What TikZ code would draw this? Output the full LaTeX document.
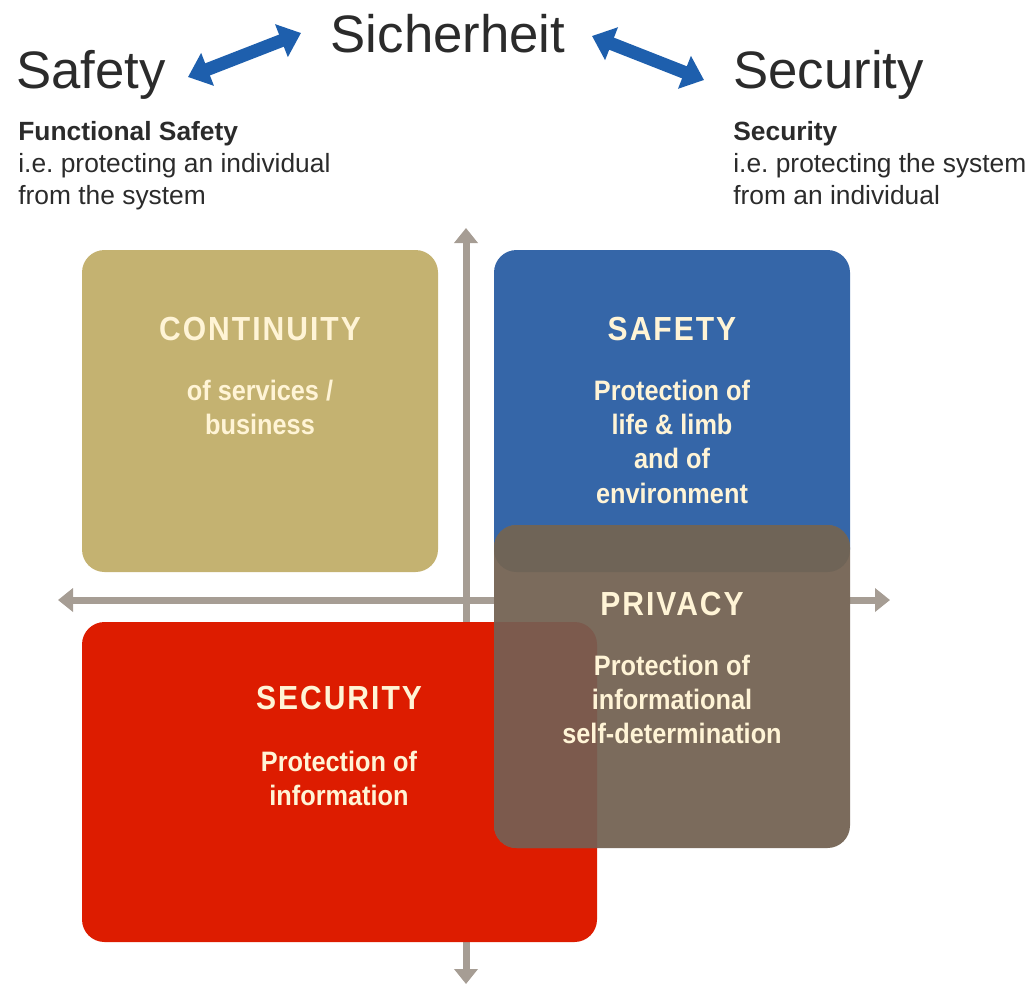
\documentclass[tikz,border=0pt]{standalone}
\usepackage{fontspec}
\setmainfont{Liberation Sans}
\newfontfamily\narrowfont[FakeStretch=0.9]{Liberation Sans}
\newfontfamily\capsfont[FakeStretch=0.9,LetterSpace=6]{Liberation Sans}
\usetikzlibrary{arrows.meta}

\definecolor{contcolor}{HTML}{C4B271}
\definecolor{safecolor}{HTML}{3566A8}
\definecolor{privcolor}{HTML}{7B6B5C}
\definecolor{privsafe}{HTML}{6F6457}
\definecolor{privsec}{HTML}{7C5A4D}
\definecolor{seccolor}{HTML}{DD1C00}
\definecolor{axisgrey}{HTML}{A69D94}
\definecolor{arrowblue}{HTML}{1E5FAD}
\definecolor{inkgrey}{HTML}{2B2B2B}
\definecolor{boxtext}{HTML}{FFF4D6}

\begin{document}
\begin{tikzpicture}[x=0.2mm,y=-0.2mm,
    field/.style={rounded corners=4.5mm},
    axis/.style={draw=axisgrey,line width=1.4mm,{Triangle[length=3mm,width=4.6mm]}-{Triangle[length=3mm,width=4.6mm]}},
    twoway/.style={draw=arrowblue,line width=2.6mm,{Triangle[length=4.2mm,width=6.8mm]}-{Triangle[length=4.2mm,width=6.8mm]}},
    heading/.style={text=inkgrey,font=\fontsize{30}{34}\selectfont,inner sep=0pt},
    note/.style={text=inkgrey,font=\fontsize{15}{18.2}\selectfont,align=left,inner sep=0pt,anchor=north west},
    fieldtitle/.style={text=boxtext,font=\capsfont\bfseries\fontsize{19}{22}\selectfont,inner sep=0pt,anchor=base},
    fieldbody/.style={text=boxtext,font=\narrowfont\bfseries\fontsize{16}{19.4}\selectfont,align=center,inner sep=0pt,anchor=north}]
    \useasboundingbox (0,0) rectangle (1029,985);
    \def\safetyfield{(494,250) rectangle (850,572)}
    \def\privacyfield{(494,525) rectangle (850,848)}
    \def\securityfield{(82,622) rectangle (597,942)}

    % Axes.
    \coordinate (axtop) at (466,228);
    \coordinate (axbottom) at (466,984);
    \coordinate (axleft) at (58,600);
    \coordinate (axright) at (890,600);
    \draw[axis] (axbottom) -- (axtop);
    \draw[axis] (axleft) -- (axright);

    % Fields.
    \fill[field,contcolor] (82,250) rectangle (438,572);
    \fill[field,safecolor] \safetyfield;
    \fill[field,seccolor] \securityfield;
    \fill[field,privcolor] \privacyfield;
    \begin{scope}
        \clip[field] \privacyfield;
        \fill[field,privsafe] \safetyfield;
        \fill[field,privsec] \securityfield;
    \end{scope}

    % Headings.
    \node[heading,anchor=base west] (safetyhead) at (16,88) {Safety};
    \node[heading,anchor=base] (sicherheit) at (448,52) {Sicherheit};
    \node[heading,anchor=base west] (securityhead) at (733,88) {Security};
    \coordinate (la) at (188,77);
    \coordinate (lb) at (301,33);
    \coordinate (ra) at (592,36);
    \coordinate (rb) at (704,80);
    \draw[twoway] (la) -- (lb);
    \draw[twoway] (ra) -- (rb);

    \node[note] (safetynote) at (18,121) {\textbf{Functional Safety}\\i.e.\ protecting an individual\\from the system};
    \node[note] (securitynote) at (733,121) {\textbf{Security}\\i.e.\ protecting the system\\from an individual};

    % Field texts.
    \node[fieldtitle] (conttitle) at (260,340) {CONTINUITY};
    \node[fieldbody] (contbody) at (260,380) {of services /\\business};
    \node[fieldtitle] (safetitle) at (672,340) {SAFETY};
    \node[fieldbody] (safebody) at (672,380) {Protection of\\life \& limb\\and of\\environment};
    \node[fieldtitle] (privtitle) at (672,615) {PRIVACY};
    \node[fieldbody] (privbody) at (672,655) {Protection of\\informational\\self-determination};
    \node[fieldtitle] (sectitle) at (339,709) {SECURITY};
    \node[fieldbody] (secbody) at (339,751) {Protection of\\information};
\end{tikzpicture}
\end{document}
